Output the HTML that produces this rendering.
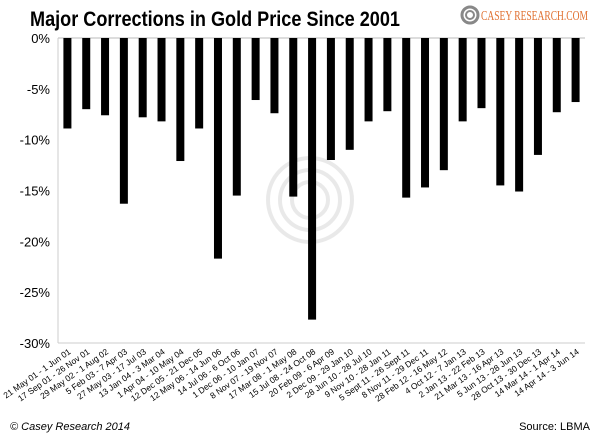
<!DOCTYPE html>
<html><head><meta charset="utf-8"><style>
body{margin:0;background:#fff;}
svg{display:block;font-family:"Liberation Sans",sans-serif;}
</style></head><body>
<svg id="c" width="600" height="435">
<text x="30" y="26" font-size="21" font-weight="bold" fill="#000" textLength="370" lengthAdjust="spacingAndGlyphs">Major Corrections in Gold Price Since 2001</text>
<g>
<circle cx="470" cy="15" r="8" fill="none" stroke="#888" stroke-width="3"/>
<circle cx="470" cy="15" r="4" fill="none" stroke="#888" stroke-width="2"/>
<text x="481" y="20" font-size="14" fill="#e07030" font-family="Liberation Serif,serif" textLength="107" lengthAdjust="spacingAndGlyphs">CASEY RESEARCH.COM</text>
</g>
<g id="wm" opacity="0.12">
<circle cx="310" cy="200" r="42" fill="none" stroke="#555" stroke-width="4"/>
<circle cx="310" cy="200" r="30" fill="none" stroke="#555" stroke-width="4"/>
<circle cx="310" cy="200" r="18" fill="none" stroke="#555" stroke-width="4"/>
</g>
<g id="axes"></g>
<g id="bars"></g>
<g id="xl"></g>
<text x="10" y="430" font-size="11" font-style="italic" fill="#000">© Casey Research 2014</text>
<text x="590" y="430" font-size="11" text-anchor="end" fill="#000">Source: LBMA</text>
</svg>
<script>
const categories=["21 May 01 - 1 Jun 01","17 Sep 01 - 26 Nov 01","29 May 02 - 1 Aug 02","5 Feb 03 - 7 Apr 03","27 May 03 - 17 Jul 03","13 Jan 04 - 3 Mar 04","1 Apr 04 - 10 May 04","12 Dec 05 - 21 Dec 05","12 May 06 - 14 Jun 06","14 Jul 06 - 6 Oct 06","1 Dec 06 - 10 Jan 07","8 Nov 07 - 19 Nov 07","17 Mar 08 - 1 May 08","15 Jul 08 - 24 Oct 08","20 Feb 09 - 6 Apr 09","2 Dec 09 - 29 Jan 10","28 Jun 10 - 28 Jul 10","9 Nov 10 - 28 Jan 11","5 Sept 11 - 26 Sept 11","8 Nov 11 - 29 Dec 11","28 Feb 12 - 16 May 12","4 Oct 12 - 7 Jan 13","2 Jan 13 - 22 Feb 13","21 Mar 13 - 16 Apr 13","5 Jun 13 - 28 Jun 13","28 Oct 13 - 30 Dec 13","14 Mar 14 - 1 Apr 14","14 Apr 14 - 3 Jun 14"];
const values=[-8.9,-7.0,-7.6,-16.3,-7.8,-8.2,-12.1,-8.9,-21.7,-15.5,-6.1,-7.4,-15.6,-27.7,-12.0,-11.0,-8.2,-7.2,-15.7,-14.7,-13.0,-8.2,-6.9,-14.5,-15.1,-11.5,-7.3,-6.3];
const ticks=[0,-5,-10,-15,-20,-25,-30];
const NS="http://www.w3.org/2000/svg";
const x0=58,x1=585,yTop=38,yBot=343;
const y=v=>yTop+(0-v)/30*(yBot-yTop);
const step=(x1-x0)/categories.length;
const xc=i=>x0+step*(i+0.5);
function mk(t,a,p){const e=document.createElementNS(NS,t);for(const k in a)e.setAttribute(k,a[k]);p.appendChild(e);return e;}
const ax=document.getElementById('axes');
ticks.forEach(t=>{
 const tx=mk('text',{x:50,y:y(t)+5,'font-size':13,'text-anchor':'end',fill:'#000'},ax);
 tx.textContent=t+'%';
 
 
});
const l1=mk('line',{x1:x0,x2:x1,y1:y(0),y2:y(0),stroke:'#bbb'},ax);


const l2=mk('line',{x1:x0,x2:x1,y1:y(-30),y2:y(-30),stroke:'#ccc'},ax);


const l3=mk('line',{x1:x0,x2:x0,y1:y(0),y2:y(-30),stroke:'#ccc'},ax);


const bg=document.getElementById('bars'),xl=document.getElementById('xl');
values.forEach((v,i)=>{
 const r=mk('rect',{x:xc(i)-4,y:y(0),width:8,height:y(v)-y(0),fill:'#000'},bg);
 
 
 const t=mk('text',{x:0,y:0,'font-size':8.5,'text-anchor':'end',fill:'#000',transform:`translate(${xc(i)+4},${yBot+10}) rotate(-35)`},xl);
 t.textContent=categories[i];
 
 
});
</script>
</body></html>
